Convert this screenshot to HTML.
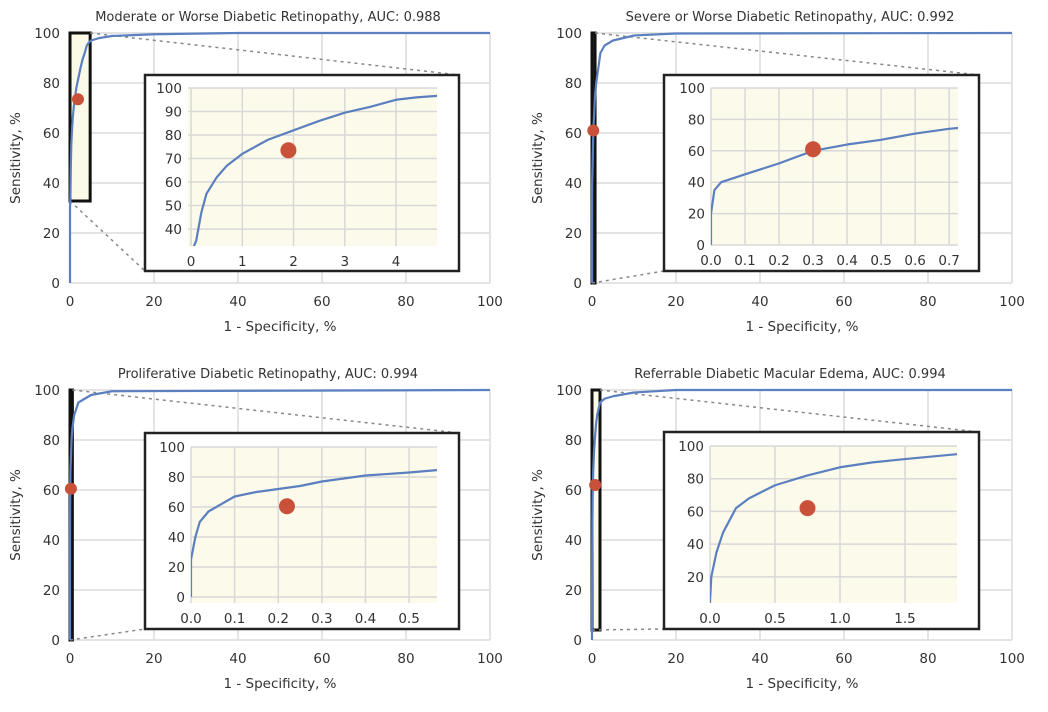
<!DOCTYPE html>
<html><head><meta charset="utf-8">
<style>
html,body{margin:0;padding:0;background:#fff;}
svg{display:block;font-family:"DejaVu Sans","Liberation Sans",sans-serif;}
</style></head>
<body>
<svg id="chart" width="1048" height="712" viewBox="0 0 1048 712" xmlns="http://www.w3.org/2000/svg"></svg>
<script>
// ---- data ----
const titles = [
 "Moderate or Worse Diabetic Retinopathy, AUC: 0.988",
 "Severe or Worse Diabetic Retinopathy, AUC: 0.992",
 "Proliferative Diabetic Retinopathy, AUC: 0.994",
 "Referrable Diabetic Macular Edema, AUC: 0.994"
];
const mainTicks = [0,20,40,60,80,100];
const roc1FPR = [0,0,0.1,0.2,0.3,0.5,0.7,1,1.5,2,2.5,3,3.5,4,4.4,5,7,10,20,40,100];
const roc1TPR = [0,30,35,47,55,62,67,72,78,82,86,89.5,92,95,96,97,98,98.8,99.5,100,100];
const roc2FPR = [0,0,0.01,0.03,0.1,0.2,0.3,0.4,0.5,0.6,0.7,1,2,3,5,10,20,100];
const roc2TPR = [0,20,35,40,45,52,60,64,67,71,74,80,92,95,97,99,99.8,100];
const roc3FPR = [0,0,0.01,0.02,0.04,0.1,0.15,0.2,0.25,0.3,0.4,0.5,0.56,1,2,5,10,100];
const roc3TPR = [0,25,40,50,57,67,70,72,74,77,81,83,84.5,90,95,98,99.5,100];
const roc4FPR = [0,0,0.01,0.05,0.1,0.2,0.3,0.5,0.75,1,1.25,1.5,1.9,3,5,10,20,100];
const roc4TPR = [0,5,20,35,47,62,68,76,82,87,90,92,95,96.5,97.5,99,100,100];
const pointFPR = [1.9,0.3,0.22,0.75];
const pointTPR = [73.5,61,60.5,62];
const insetXTicks = [[0,1,2,3,4],[0,0.1,0.2,0.3,0.4,0.5,0.6,0.7],[0,0.1,0.2,0.3,0.4,0.5],[0,0.5,1.0,1.5]];
const insetYTicks = [[40,50,60,70,80,90,100],[0,20,40,60,80,100],[0,20,40,60,80,100],[20,40,60,80,100]];
const insetXDomain = [[-0.06,4.8],[0,0.726],[0,0.564],[0,1.9]];
const insetYDomain = [[32.8,100],[0,100],[-4,100],[4,100]];
const insetXDecimals = [0,1,1,1];
// ---- layout ----
const rocFPR=[roc1FPR,roc2FPR,roc3FPR,roc4FPR], rocTPR=[roc1TPR,roc2TPR,roc3TPR,roc4TPR];
const panels=[
 {x0:70,y0:33,inset:{bx:145,by:75,bw:314,bh:196,px0:188,px1:437,py0:88,py1:246}},
 {x0:592,y0:33,inset:{bx:664,by:75,bw:315,bh:196,px0:711,px1:958,py0:88,py1:245}},
 {x0:70,y0:390,inset:{bx:145,by:433,bw:314,bh:196,px0:191,px1:437,py0:447,py1:603}},
 {x0:592,y0:390,inset:{bx:664,by:432,bw:315,bh:197,px0:710,px1:957,py0:446,py1:603}}
];
const NS="http://www.w3.org/2000/svg";
const svg=document.getElementById('chart');
function mk(tag,attrs,parent,text){const e=document.createElementNS(NS,tag);for(const k in attrs)e.setAttribute(k,attrs[k]);if(text!==undefined)e.textContent=text;(parent||svg).appendChild(e);return e;}
panels.forEach((p,i)=>{
 const g=mk('g',{});
 
 
 const W=420,H=250;
 const sx=v=>p.x0+v/100*W, sy=v=>p.y0+H-v/100*H;
 mainTicks.forEach(t=>{
  const gl=mk('line',{x1:sx(t),x2:sx(t),y1:sy(0),y2:sy(100),stroke:'#dcdcdc','stroke-width':1.5},g);
  
  
  const hl=mk('line',{x1:sx(0),x2:sx(100),y1:sy(t),y2:sy(t),stroke:'#dcdcdc','stroke-width':1.5},g);
  
  
  const xl=mk('text',{x:sx(t),y:sy(0)+23,'text-anchor':'middle','font-size':13.5,fill:'#333'},g,String(t));
  
  
  const yl=mk('text',{x:sx(0)-10,y:sy(t)+5,'text-anchor':'end','font-size':13.5,fill:'#333'},g,String(t));
  
  
 });
 const tt=mk('text',{x:p.x0+198,y:p.y0-12,'text-anchor':'middle','font-size':13,fill:'#333'},g,titles[i]);
 
 
 const xt=mk('text',{x:p.x0+210,y:p.y0+298,'text-anchor':'middle','font-size':13.5,fill:'#333'},g,'1 - Specificity, %');
 
 
 const yt=mk('text',{x:0,y:0,'text-anchor':'middle','font-size':13.5,fill:'#333',transform:`translate(${p.x0-50},${p.y0+125}) rotate(-90)`},g,'Sensitivity, %');
 
 
 const ins=p.inset, xd=insetXDomain[i], yd=insetYDomain[i];
 const rx0=sx(Math.max(0,xd[0])), rx1=sx(xd[1]), ry0=sy(yd[1]), ry1=sy(Math.max(0,yd[0]));
 const zr=mk('rect',{x:rx0,y:ry0,width:Math.max(rx1-rx0,2),height:ry1-ry0,fill:'#fbf9e8',stroke:'#111','stroke-width':3},g);
 
 
 const d1=mk('line',{x1:rx1,y1:ry0,x2:ins.bx+ins.bw,y2:ins.by,stroke:'#888','stroke-width':1.5,'stroke-dasharray':'3,4'},g);
 
 
 const d2=mk('line',{x1:rx0,y1:ry1,x2:ins.bx,y2:ins.by+ins.bh,stroke:'#888','stroke-width':1.5,'stroke-dasharray':'3,4'},g);
 
 
 const fx=rocFPR[i], ty=rocTPR[i];
 const mc=mk('polyline',{points:fx.map((v,k)=>sx(v)+','+sy(ty[k])).join(' '),fill:'none',stroke:'#5b7fbf','stroke-width':2.2,'stroke-linejoin':'round'},g);
 
 
 const md=mk('circle',{cx:sx(pointFPR[i]),cy:sy(pointTPR[i]),r:6,fill:'#c9513a'},g);
 
 
 const ig=mk('g',{},g);
 
 
 mk('rect',{x:ins.bx,y:ins.by,width:ins.bw,height:ins.bh,fill:'#fff'},ig);
 const ix=v=>ins.px0+(v-xd[0])/(xd[1]-xd[0])*(ins.px1-ins.px0);
 const iy=v=>ins.py1-(v-yd[0])/(yd[1]-yd[0])*(ins.py1-ins.py0);
 mk('rect',{x:ins.px0,y:ins.py0,width:ins.px1-ins.px0,height:ins.py1-ins.py0,fill:'#fcfaea'},ig);
 insetXTicks[i].forEach(t=>{
  const l=mk('line',{x1:ix(t),x2:ix(t),y1:ins.py0,y2:ins.py1,stroke:'#d8d8d8','stroke-width':1.5},ig);
  
  
  const tl=mk('text',{x:ix(t),y:ins.py1+20,'text-anchor':'middle','font-size':13.5,fill:'#333'},ig,t.toFixed(insetXDecimals[i]));
  
  
 });
 insetYTicks[i].forEach(t=>{
  const l=mk('line',{x1:ins.px0,x2:ins.px1,y1:iy(t),y2:iy(t),stroke:'#d8d8d8','stroke-width':1.5},ig);
  
  
  const tl=mk('text',{x:ins.px0-6,y:iy(t)+5,'text-anchor':'end','font-size':13.5,fill:'#333'},ig,String(t));
  
  
 });
 mk('clipPath',{id:'clip'+i},ig);
 mk('rect',{x:ins.px0,y:ins.py0-2,width:ins.px1-ins.px0,height:ins.py1-ins.py0+2},ig.lastChild);
 const ic=mk('polyline',{points:fx.map((v,k)=>ix(v)+','+iy(ty[k])).join(' '),fill:'none',stroke:'#5b7fbf','stroke-width':2.2,'stroke-linejoin':'round','clip-path':`url(#clip${i})`},ig);
 
 
 const idt=mk('circle',{cx:ix(pointFPR[i]),cy:iy(pointTPR[i]),r:8,fill:'#c9513a'},ig);
 
 
 const fr=mk('rect',{x:ins.bx,y:ins.by,width:ins.bw,height:ins.bh,fill:'none',stroke:'#222','stroke-width':2.5},ig);
 
 
});
</script>
</body></html>
